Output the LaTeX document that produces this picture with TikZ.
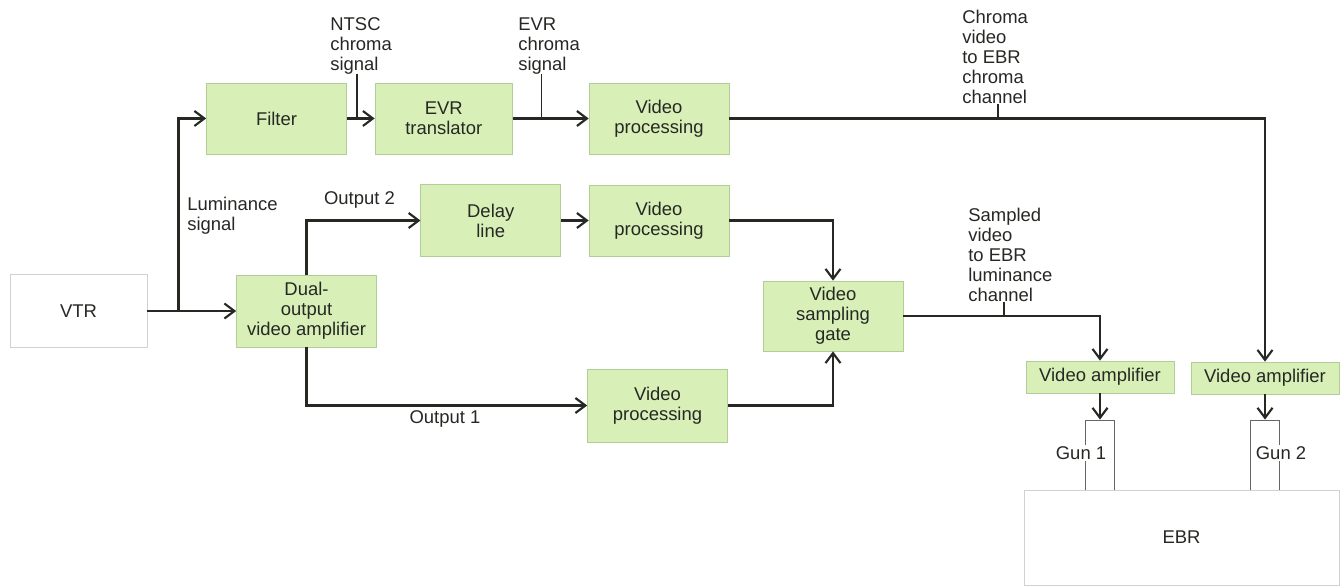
\documentclass[tikz,border=0pt]{standalone}
\usepackage{fontspec}
\setmainfont{Liberation Sans}
\usetikzlibrary{arrows.meta}
\definecolor{boxgreen}{RGB}{216,240,184}
\definecolor{edgegreen}{RGB}{176,206,150}
\definecolor{ink}{RGB}{38,40,36}
\begin{document}
\begin{tikzpicture}[x=0.02cm, y=-0.02cm,
    font=\fontsize{10.5}{11.4}\selectfont, text=ink,
    block/.style={draw=edgegreen, fill=boxgreen, align=center, minimum width=2.8cm, minimum height=1.42cm, inner sep=2pt},
    plain/.style={draw=black!18, fill=white, minimum width=2.74cm, minimum height=1.46cm},
    amp/.style={block, minimum width=2.96cm, minimum height=0.64cm},
    gun/.style={draw=black!60, line width=0.5pt, fill=white, minimum width=0.58cm, minimum height=1.4cm},
    sig/.style={draw=ink, line width=1.2pt, -{Straight Barb[length=2mm,width=3mm]}},
    lead/.style={draw=ink, line width=0.6pt},
    lbl/.style={align=left, anchor=north west, inner sep=0pt}]
  \useasboundingbox (0,0) rectangle (1344,587);

  % Blocks of the chain
  \node[plain] (vtr) at (78.5,311) {VTR};
  \node[block] (filter) at (276.5,118.5) {Filter};
  \node[block, minimum width=2.75cm] (evr) at (443.75,118.5) {EVR\\translator};
  \node[block] (vptop) at (659,118.5) {Video\\processing};
  \node[block, minimum height=1.44cm] (delay) at (490.75,220.5) {Delay\\line};
  \node[block] (vpmid) at (659,220.5) {Video\\processing};
  \node[block, minimum height=1.44cm] (dual) at (306.5,311) {Dual-\\output\\video amplifier};
  \node[block, minimum height=1.46cm] (vpbot) at (657.5,405.5) {Video\\processing};
  \node[block, minimum height=1.4cm] (vsg) at (833,316) {Video\\sampling\\gate};
  \node[amp] (amp1) at (1100,377) {Video amplifier};
  \node[amp] (amp2) at (1265,378) {Video amplifier};

  % Guns and the EBR
  \node[gun] (gun1) at (1099.5,455) {};
  \node[gun] (gun2) at (1265,455) {};
  \node[plain, minimum width=6.3cm, minimum height=1.9cm] (ebr) at (1181.5,537.5) {EBR};
  \node[fill=white, inner sep=1pt] (gunlbl1) at (1081,453) {Gun 1};
  \node[fill=white, inner sep=1pt] (gunlbl2) at (1281,453) {Gun 2};

  % Signal paths
  \coordinate (lum) at (178.5,311);
  \draw[sig] (vtr) -- (dual);
  \draw[sig] (lum) |- (filter.west);
  \draw[sig] (filter) -- (evr);
  \draw[sig] (evr) -- (vptop);
  \draw[sig] (vptop.east) -| (amp2.north);
  \draw[sig] (dual.north) |- (delay.west);
  \draw[sig] (delay) -- (vpmid);
  \draw[sig] (vpmid.east) -| (vsg.north);
  \draw[sig] (dual.south) |- (vpbot.west);
  \draw[sig] (vpbot.east) -| (vsg.south);
  \draw[sig] (vsg.east) -| (amp1.north);
  \draw[sig] (amp1.south) -- (amp1.south |- gun1.north);
  \draw[sig] (amp2.south) -- (amp2.south |- gun2.north);

  % Labels
  \node[lbl] (ntsc) at (330,17) {NTSC\\chroma\\signal};
  \node[lbl] (evrsig) at (518,17) {EVR\\chroma\\signal};
  \node[lbl] (chromach) at (962,10) {Chroma\\video\\to EBR\\chroma\\channel};
  \node[lbl] (lumsig) at (187,197) {Luminance\\signal};
  \node[lbl] (sampled) at (968,208) {Sampled\\video\\to EBR\\luminance\\channel};
  \node (out2) at (359.5,200) {Output 2};
  \node (out1) at (445,419) {Output 1};

  % Leader lines
  \coordinate (ntsctap) at (357,118.5);
  \coordinate (evrtap) at (541.5,118.5);
  \coordinate (chromatap) at (998,118.5);
  \coordinate (sampledtap) at (1004,316);
  \draw[lead] (ntsctap) -- (ntsctap |- ntsc.south);
  \draw[lead] (evrtap) -- (evrtap |- evrsig.south);
  \draw[lead] (chromatap) -- (chromatap |- chromach.south);
  \draw[lead] (sampledtap) -- (sampledtap |- sampled.south);
\end{tikzpicture}
\end{document}
